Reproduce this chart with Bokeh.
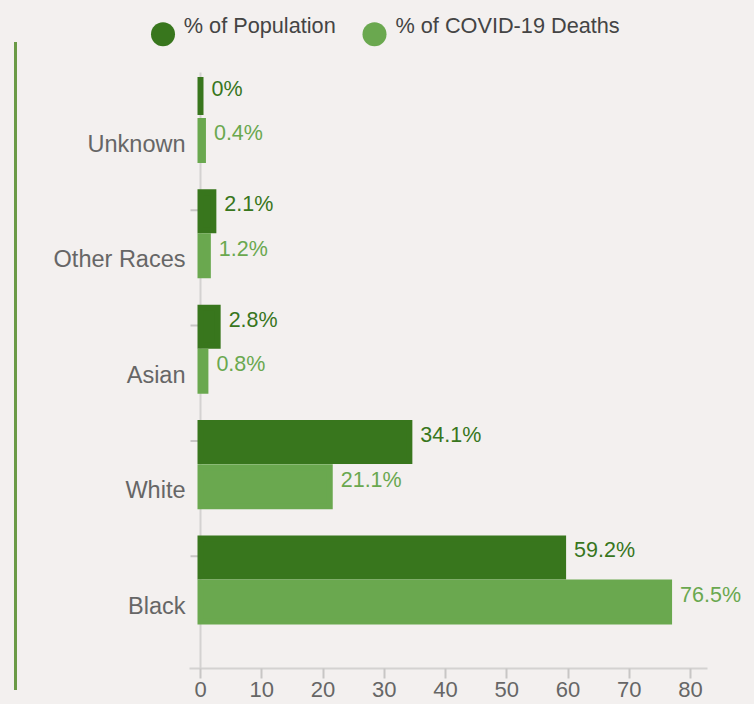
from bokeh.plotting import figure
from bokeh.models import (ColumnDataSource, Range1d, FixedTicker, LabelSet, Div)
from bokeh.layouts import row
from bokeh.core.properties import value
from bokeh.embed import file_html
from bokeh.resources import INLINE

# ---------------- data ----------------
categories = ["Unknown", "Other Races", "Asian", "White", "Black"]
population = [0.0, 2.1, 2.8, 34.1, 59.2]
deaths = [0.4, 1.2, 0.8, 21.1, 76.5]
x_ticks = [0, 10, 20, 30, 40, 50, 60, 70, 80]
series_names = ["% of Population", "% of COVID-19 Deaths"]

# ---------------- style ----------------
BG = "#f3f0ef"
POP = "#38761d"
DTH = "#6aa84f"
RULE = "#6a9a46"
FONT = "Liberation Sans"
AXIS_GREY = "#d4d2d1"
TICK_GREY = "#c8c6c5"
TEXT_GREY = "#666666"

# layout helpers: page pixel -> data coordinate (scale of the chart)
PX_PER_X, X0_PAGE = 6.125, 200.0
PX_PER_Y, Y0_PAGE = 115.4, 605.0
def xd(px):
    return (px - X0_PAGE) / PX_PER_X
def yd(py):
    return (Y0_PAGE - py) / PX_PER_Y

FIG_LEFT, FIG_RIGHT, FRAME_BOTTOM = 17, 754, 668

n = len(categories)
pos = [n - 1 - i for i in range(n)]          # Unknown on top, Black at bottom
POP_SHIFT, DTH_SHIFT = 0.416, 0.030           # bar positions relative to label
BAR_H_POP, BAR_H_DTH = 0.329, 0.338
TICK_SHIFT = 0.426

def pct(v):
    return f"{v:g}%"

src = ColumnDataSource(dict(
    cat=categories, pos=pos, pop=population, dth=deaths,
    zero=[0] * n,
    pop_y=[q + POP_SHIFT for q in pos], dth_y=[q + DTH_SHIFT for q in pos],
    pop_lbl=[pct(v) for v in population], dth_lbl=[pct(v) for v in deaths],
))

p = figure(frame_width=FIG_RIGHT - FIG_LEFT, frame_height=FRAME_BOTTOM,
           x_range=Range1d(xd(FIG_LEFT), xd(FIG_RIGHT)),
           y_range=Range1d(yd(FRAME_BOTTOM), yd(0)),
           y_axis_location=None,
           output_backend="svg", toolbar_location=None,
           min_border_left=0, min_border_right=0, min_border_top=0,
           min_border_bottom=36,
           background_fill_color=BG, border_fill_color=BG,
           outline_line_color=None)
p.xgrid.visible = False
p.ygrid.visible = False

# y axis (line + small ticks between categories)
p.segment(x0=0, y0=yd(FRAME_BOTTOM), x1=0, y1=yd(72),
          line_color=AXIS_GREY, line_width=2)
p.ray(x=[0] * (n - 1), y=[q + TICK_SHIFT for q in pos if q < n - 1],
      length=10, length_units="screen", angle=180, angle_units="deg",
      line_color=TICK_GREY, line_width=2)

# category labels
p.text(x="zero", y="pos", text="cat", source=src, x_offset=-15,
       text_align="right", text_baseline="middle", text_color=TEXT_GREY,
       text_font=value(FONT), text_font_size="23.5px")

# bars
p.hbar(y="pop_y", left=0, right="pop", height=BAR_H_POP, source=src,
       fill_color=POP, line_color=POP, line_width=6, line_join="miter")
p.hbar(y="dth_y", left=0, right="dth", height=BAR_H_DTH, source=src,
       fill_color=DTH, line_color=DTH, line_width=6, line_join="miter")

# value labels
for xcol, ycol, col, color in (("pop", "pop_y", "pop_lbl", POP),
                               ("dth", "dth_y", "dth_lbl", DTH)):
    p.add_layout(LabelSet(x=xcol, y=ycol, text=col, source=src,
                          x_offset=11, y_offset=7,
                          text_baseline="middle", text_align="left",
                          text_color=color,
                          text_font=value(FONT), text_font_size="21.5px"))

# legend
leg_src = ColumnDataSource(dict(
    name=series_names, color=[POP, DTH],
    mx=[xd(162.5), xd(374.0)], my=[yd(33.7)] * 2,
    tx=[xd(183.3), xd(395.0)], ty=[yd(25.0)] * 2,
))
p.scatter(x="mx", y="my", marker="circle", size=24, fill_color="color",
          line_color=None, source=leg_src)
p.text(x="tx", y="ty", text="name", source=leg_src, text_color="#444444",
       text_font=value(FONT), text_font_size="21.7px",
       text_baseline="middle", text_align="left")

# x axis
xa = p.xaxis[0]
xa.ticker = FixedTicker(ticks=x_ticks)
xa.bounds = (xd(189), xd(707))
xa.axis_line_color = AXIS_GREY
xa.axis_line_width = 2
xa.major_tick_line_color = TICK_GREY
xa.major_tick_line_width = 2
xa.major_tick_out = 10
xa.major_tick_in = 0
xa.minor_tick_line_color = None
xa.major_label_standoff = 3
xa.major_label_text_font = FONT
xa.major_label_text_font_size = "22px"
xa.major_label_text_color = TEXT_GREY

rule = Div(text="", width=3, height=648, margin=(42, 0, 0, 14),
           styles={"background-color": RULE})

layout = row(rule, p)
html = file_html(layout, INLINE, title="COVID-19 deaths by race")
html = html.replace("</head>",
                    "<style>html, body { background-color: #f3f0ef; }</style></head>", 1)
open("out.html", "w").write(html)
